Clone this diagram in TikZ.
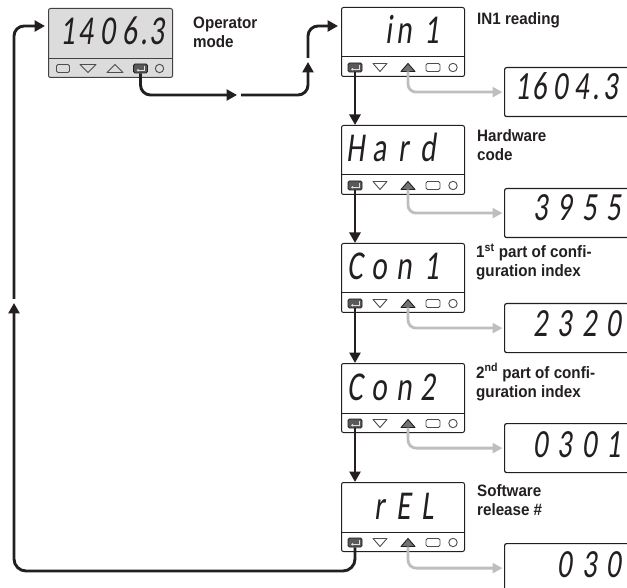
\documentclass[tikz,border=0pt]{standalone}
\usepackage{fontspec}
\setmainfont{Liberation Sans}
\newfontfamily\lblfont{Liberation Sans}[FakeStretch=0.92]
\newfontfamily\segfont{Carlito}[FakeStretch=0.72,FakeSlant=0.13]
\usetikzlibrary{arrows.meta}
\definecolor{ink}{HTML}{231F20}
\definecolor{soft}{HTML}{BEBEBE}
\definecolor{panel}{HTML}{DCDCDC}
\newcommand\cel[2][c]{\makebox[24pt][#1]{#2}}
\newcommand\opcel[2][c]{\makebox[22pt][#1]{#2}}
\newcommand\vcel[2][c]{\makebox[24.5pt][#1]{#2}}
\newcommand\scel[2][c]{\makebox[20.5pt][#1]{#2}}
\tikzset{
  flow/.style={draw=ink, line width=2.9pt, rounded corners=10pt, -{Triangle[length=10.5pt,width=11pt]}},
  side/.style={draw=soft, line width=2.8pt, rounded corners=8pt, -{Triangle[length=10pt,width=10pt]}, shorten >=1.5pt},
  ctrlbox/.style={draw=ink, line width=1pt, fill=white, rounded corners=2pt, minimum width=123pt, minimum height=69pt, inner sep=0pt, anchor=north west},
  valbox/.style={draw=ink, line width=1.2pt, fill=white, rounded corners=2pt, minimum width=150pt, minimum height=49pt, inner sep=0pt, anchor=north west},
  lbl/.style={font=\lblfont\bfseries\fontsize{16.5}{19}\selectfont, text=ink, align=left, inner sep=0pt, anchor=base west},
  seg/.style={font=\segfont\fontsize{41}{41}\selectfont, text=ink, inner sep=0pt, anchor=base east},
  vseg/.style={font=\segfont\fontsize{40}{40}\selectfont, text=ink, inner sep=0pt, anchor=base east},
  btn/.style={draw=ink!80, line width=0.9pt, line join=round},
  entbtn/.style={draw=ink, fill=black!65, line width=0.9pt, rounded corners=1.5pt, minimum width=14pt, minimum height=9pt, inner sep=0pt},
  entline/.style={draw=white!75!gray, line width=0.7pt, -{Triangle[length=2pt,width=2.6pt]}},
}
\newcommand\whiteunit[3]{%
  \node[ctrlbox] (#1) at (341,#2) {};
  \begin{scope}[shift={(341,#2)}]
    \draw[ink, line width=1pt] (0,50) -- (123,50);
    \node[entbtn] (#1-ent) at (14,60.5) {};
    \draw[entline] (18,58.3) -- (18,62.3) -- (10,62.3);
    \draw[btn] (32,56.5) -- (46,56.5) -- (39,64.5) -- cycle;
    \draw[btn, draw=ink, fill=black!55] (60,64.5) -- (74,64.5) -- (67,56.5) -- cycle;
    \coordinate (#1-up) at (67,64.5);
    \draw[btn, rounded corners=1.5pt] (85,56.5) rectangle (99,64.5);
    \draw[btn] (112,60.5) circle (4.2pt);
    \node[seg] (#1-disp) at (99,37) {#3};
  \end{scope}}
\begin{document}
\begin{tikzpicture}[x=1pt,y=-1pt]
\useasboundingbox (0,0) rectangle (627,588);

% ---- operator unit
\node[ctrlbox, fill=panel, draw=ink!85, minimum width=124pt] (op) at (48,8) {};
\begin{scope}[shift={(48,8)}]
  \draw[ink!85, line width=0.9pt] (0,50) -- (124,50);
  \draw[btn, rounded corners=1.5pt] (8.5,56.5) rectangle (21.5,64.5);
  \draw[btn] (32,56.5) -- (48,56.5) -- (40,64.5) -- cycle;
  \draw[btn] (59,64.5) -- (75,64.5) -- (67,56.5) -- cycle;
  \node[entbtn] (op-ent) at (92.5,60.5) {};
  \draw[entline] (96.5,58.3) -- (96.5,62.3) -- (88.5,62.3);
  \draw[btn] (111.5,60.5) circle (4.2pt);
  \node[seg] (op-disp) at (120.5,37) {\opcel[r]{1}\opcel{4}\opcel{0}\opcel{6}\makebox[5pt]{.}\opcel{3}};
\end{scope}

% ---- parameter units
\whiteunit{in1}{7}{\cel{}\cel[r]{i}\cel{n}\cel[r]{1}}
\whiteunit{hard}{125}{\cel{H}\cel{a}\cel{r}\cel{d}}
\whiteunit{con1}{243}{\cel{C}\cel{o}\cel{n}\cel[r]{1}}
\whiteunit{con2}{363}{\cel{C}\cel{o}\cel{n}\cel{2}}
\whiteunit{rel}{482}{\cel{}\cel{r}\cel{E}\cel{L}}

% ---- value displays
\node[valbox] (v1) at (504,67) {};
\node[vseg] (v1-disp) at (621.25,100) {\scel[r]{1}\scel{6}\scel{0}\scel{4}\makebox[9pt]{.}\scel{3}};
\node[valbox] (v2) at (504,188) {};
\node[vseg] (v2-disp) at (626.5,221) {\vcel{3}\vcel{9}\vcel{5}\vcel{5}};
\node[valbox] (v3) at (504,303) {};
\node[vseg] (v3-disp) at (626.5,337) {\vcel{2}\vcel{3}\vcel{2}\vcel{0}};
\node[valbox] (v4) at (504,423) {};
\node[vseg] (v4-disp) at (626.5,457) {\vcel{0}\vcel{3}\vcel{0}\vcel[r]{1\kern5pt}};
\node[valbox] (v5) at (504,543) {};
\node[vseg] (v5-disp) at (626.5,577) {\vcel{0}\vcel{3}\vcel{0}};

% ---- labels (base = last line)
\node[lbl] (l-op) at (193,48) {Operator\\mode};
\node[lbl] (l-in1) at (477,25) {IN1 reading};
\node[lbl] (l-hw) at (477,160.5) {Hardware\\code};
\node[lbl] (l-c1) at (476,277) {1\textsuperscript{st} part of confi-\\guration index};
\node[lbl] (l-c2) at (476,397) {2\textsuperscript{nd} part of confi-\\guration index};
\node[lbl] (l-sw) at (477,515) {Software\\release \#};

% ---- connector helpers
\coordinate (m1) at (237,95);
\coordinate (m2) at (241,95);
\coordinate (m3) at (308,62);
\coordinate (m4) at (308,58);
\coordinate (in1-in) at (338,26);
\coordinate (op-in) at (45,26);
\coordinate (L0) at (14,571);
\coordinate (L1) at (14,303);
\coordinate (L2) at (14,299);

% ---- black flow
\draw[flow] (op-ent.south) |- (m1);
\draw[flow] (m2) -| (m3);
\draw[flow] (m4) |- (in1-in);
\draw[flow] (in1-ent.south) -- (in1-ent.south |- hard.north);
\draw[flow] (hard-ent.south) -- (hard-ent.south |- con1.north);
\draw[flow] (con1-ent.south) -- (con1-ent.south |- con2.north);
\draw[flow] (con2-ent.south) -- (con2-ent.south |- rel.north);
\draw[flow, rounded corners=12pt] (rel-ent.south) |- (L0) -- (L1);
\draw[flow] (L2) |- (op-in);

% ---- grey side paths
\draw[side] (in1-up) |- (v1.west);
\draw[side] (hard-up) |- (v2.west);
\draw[side] (con1-up) |- (v3.west);
\draw[side] (con2-up) |- (v4.west);
\draw[side] (rel-up) |- (v5.west);
\end{tikzpicture}
\end{document}
